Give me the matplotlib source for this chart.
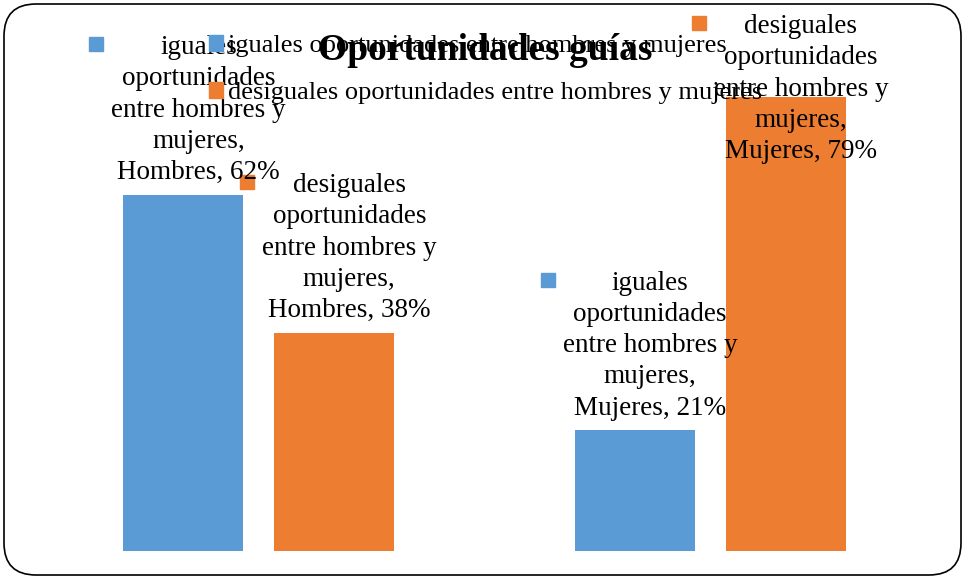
import numpy as np
import matplotlib.pyplot as plt
from matplotlib.patches import FancyBboxPatch, Patch
from matplotlib.transforms import IdentityTransform

plt.rcParams['font.family'] = ['Liberation Serif', 'DejaVu Serif']

categories = ['Hombres', 'Mujeres']
series = ['iguales oportunidades entre hombres y mujeres',
          'desiguales oportunidades entre hombres y mujeres']
label_names = ['iguales\noportunidades\nentre hombres y\nmujeres,',
               'desiguales\noportunidades\nentre hombres y\nmujeres,']
values = [[0.62, 0.21],
          [0.38, 0.79]]
colors = ['#5B9BD5', '#ED7D31']

fig = plt.figure(figsize=(9.65, 5.79), dpi=100)
ax = fig.add_axes([0.034, 0.0484, 0.936, 0.843])
ax.set_xlim(-0.5, 1.5)
ax.set_ylim(0, 0.85)
ax.axis('off')

x = np.arange(len(categories))
w = 0.266
offs = [-0.167, 0.167]

for i, s in enumerate(series):
    ax.bar(x + offs[i], values[i], w, color=colors[i], label=s)

# rounded border of the chart area
border = FancyBboxPatch((4, 4), 957, 571, boxstyle='round,pad=0,rounding_size=32',
                        transform=IdentityTransform(), fill=False, ec='black', lw=1.2)
fig.add_artist(border)

fig.text(0.503, 1 - 60 / 579, 'Oportunidades guías', ha='center', va='baseline',
         fontsize=27, fontweight='bold')

fig.legend(handles=[Patch(color=c) for c in colors], labels=series,
           loc='upper left', bbox_to_anchor=(209 / 965, 1 - 35 / 579),
           frameon=False, fontsize=19, handlelength=0.53, handleheight=0.53,
           handletextpad=0.2, labelspacing=0.95, borderpad=0, borderaxespad=0)

labels = []
for i in range(len(series)):
    for j in range(len(categories)):
        txt = '%s\n%s, %d%%' % (label_names[i], categories[j], round(values[i][j] * 100))
        t = ax.annotate(txt, xy=(x[j] + offs[i], values[i][j]), xytext=(11, 7),
                        textcoords='offset points', ha='center', va='bottom',
                        multialignment='center', fontsize=19.5, linespacing=1.33)
        labels.append((t, colors[i]))

fig.canvas.draw()
r = fig.canvas.get_renderer()
top_limit = 579 - 14
for t, c in labels:
    bb = t.get_window_extent(r)
    if bb.y1 > top_limit:
        # label would leave the chart: push it down inside the bar
        dy = (bb.y1 - top_limit) * 72 / 100
        t.xyann = (t.xyann[0], t.xyann[1] - dy)
        bb = t.get_window_extent(r)
    ax.plot([bb.x0 - 15], [bb.y1 - 9], marker='s', ms=10, color=c,
            transform=IdentityTransform(), clip_on=False)

fig.savefig('out.png', dpi=100)
